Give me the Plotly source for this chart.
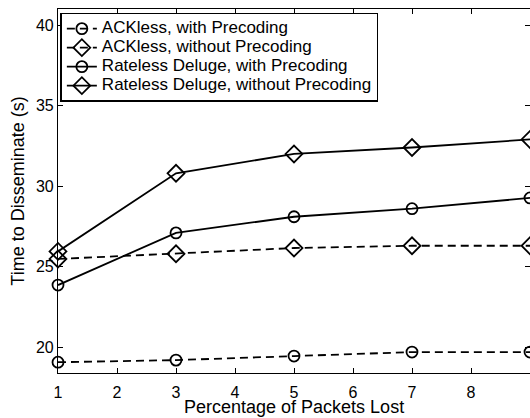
import plotly.graph_objects as go

x = [1, 3, 5, 7, 9]
ackless_pre = [19.07, 19.2, 19.45, 19.7, 19.7]
ackless_nopre = [25.48, 25.8, 26.16, 26.3, 26.3]
rd_pre = [23.86, 27.1, 28.1, 28.6, 29.27]
rd_nopre = [25.95, 30.8, 32.0, 32.4, 32.9]

names = ["ACKless, with Precoding", "ACKless, without Precoding",
         "Rateless Deluge, with Precoding", "Rateless Deluge, without Precoding"]
series = [ackless_pre, ackless_nopre, rd_pre, rd_nopre]
dashes = ["dash", "dash", "solid", "solid"]
symbols = ["circle-open", "diamond-open", "circle-open", "diamond-open"]
sizes = [11, 13, 11, 13]

fig = go.Figure()
for n, s, d, sym, sz in zip(names, series, dashes, symbols, sizes):
    fig.add_trace(go.Scatter(
        x=x, y=s, name='<span style="font-size:17px">' + n + '</span>', mode="lines+markers",
        line=dict(color="black", width=1.8, dash="8px,5px" if d == "dash" else "solid"),
        marker=dict(symbol=sym, size=sz, color="black", line=dict(width=1.8, color="black")),
        cliponaxis=False,
    ))

font = "Liberation Sans, Arial, sans-serif"
fig.update_layout(
    width=530, height=418,
    margin=dict(l=58, r=0, t=9, b=45),
    paper_bgcolor="white", plot_bgcolor="white",
    font=dict(family=font, size=16, color="black"),
    showlegend=True,
    legend=dict(x=0.005, y=0.99, xanchor="left", yanchor="top",
                bgcolor="white", bordercolor="black", borderwidth=1.5,
                font=dict(size=12, family=font), tracegroupgap=0,
                itemwidth=30),
    annotations=[dict(text="Percentage of Packets Lost", xref="paper", yref="paper",
                      x=0.5, y=0, xanchor="center", yanchor="middle", yshift=-34,
                      showarrow=False, font=dict(size=18, family=font))],
)
fig.update_xaxes(
    range=[1, 9], tickvals=[1, 2, 3, 4, 5, 6, 7, 8, 9],
    ticks="inside", ticklen=5, tickcolor="black",
    showline=True, linecolor="black", linewidth=1.2, mirror="ticks",
    showgrid=False, zeroline=False,
    tickfont=dict(size=16), ticklabelstandoff=5,
)
fig.update_yaxes(
    range=[18.4, 41.0], tickvals=[20, 25, 30, 35, 40],
    ticks="inside", ticklen=5, tickcolor="black",
    showline=True, linecolor="black", linewidth=1.2, mirror="ticks",
    showgrid=False, zeroline=False,
    title=dict(text="Time to Disseminate (s)", font=dict(size=18), standoff=6),
    tickfont=dict(size=16),
)
fig.write_html("out.html")
